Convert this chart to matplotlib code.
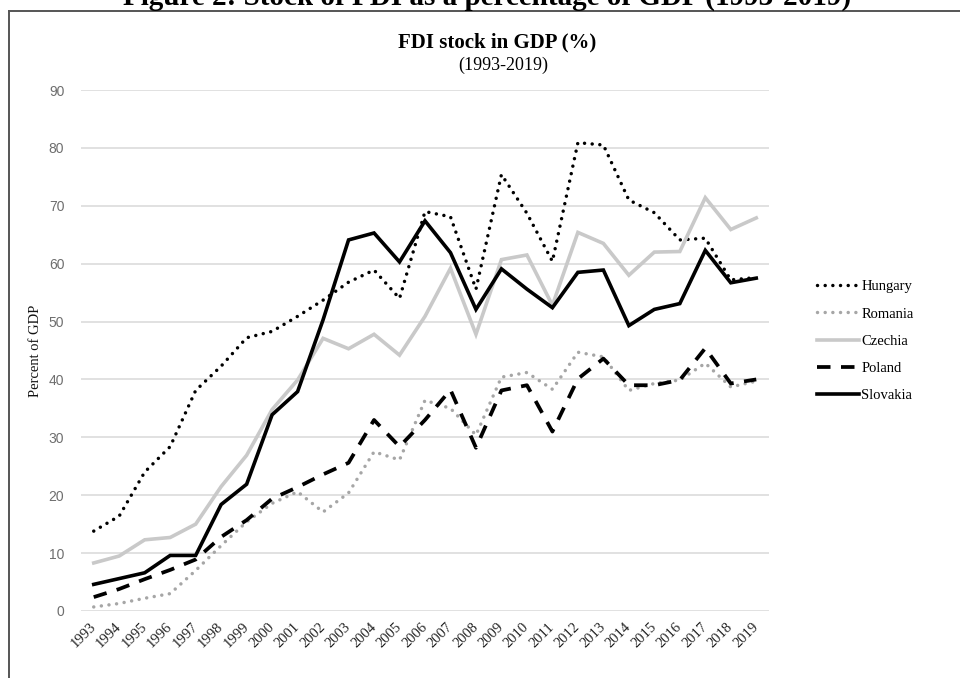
import matplotlib
matplotlib.use("Agg")
import matplotlib.pyplot as plt
from matplotlib.lines import Line2D


YEARS = [str(y) for y in range(1993, 2020)]

HUNGARY = [13.8, 16.4, 24.0, 28.4, 38.1, 42.3, 47.2, 48.3, 50.9, 53.7, 56.8, 58.9, 54.0,
           69.0, 68.1, 55.6, 75.4, 68.7, 60.4, 80.9, 80.5, 71.0, 68.8, 64.1, 64.4, 57.2, 57.6]
ROMANIA = [0.7, 1.3, 2.2, 3.0, 7.0, 11.3, 15.4, 18.6, 20.6, 17.1, 20.4, 27.5, 26.1,
           36.4, 35.0, 30.4, 40.4, 41.2, 38.3, 44.7, 43.9, 38.1, 39.3, 39.9, 42.8, 38.7, 39.7]
CZECHIA = [8.3, 9.5, 12.3, 12.7, 15.0, 21.5, 26.9, 34.8, 39.9, 47.1, 45.3, 47.8, 44.2,
           50.9, 59.2, 47.8, 60.7, 61.5, 52.8, 65.4, 63.5, 58.0, 62.0, 62.1, 71.4, 65.9, 67.9]
POLAND = [2.4, 3.8, 5.5, 7.1, 8.9, 12.8, 15.7, 19.4, 21.4, 23.6, 25.6, 33.0, 28.4,
          33.0, 38.2, 28.2, 38.1, 39.0, 31.0, 40.1, 43.6, 39.0, 39.0, 39.9, 45.4, 39.3, 40.0]
SLOVAKIA = [4.6, 5.6, 6.6, 9.6, 9.6, 18.4, 21.9, 33.9, 37.9, 50.3, 64.1, 65.3, 60.3,
            67.4, 61.9, 52.1, 59.1, 55.6, 52.4, 58.5, 58.9, 49.3, 52.1, 53.1, 62.3, 56.7, 57.5]

Y_TICKS = [0, 10, 20, 30, 40, 50, 60, 70, 80, 90]

SERIF = "Liberation Serif"
SANS = "Liberation Sans"


def main():
    fig = plt.figure(figsize=(9.6, 6.78), dpi=100)
    ax = fig.add_axes([81 / 960, 1 - 611 / 678, 688 / 960, 521 / 678])

    x = list(range(len(YEARS)))
    dot = (0, (0.01, 2.2))
    series = [
        ("Hungary", HUNGARY, "#000000", dot, 2.5),
        ("Romania", ROMANIA, "#a6a6a6", dot, 2.5),
        ("Czechia", CZECHIA, "#c9c9c9", "-", 2.6),
        ("Poland", POLAND, "#000000", (0, (3.6, 2.8)), 2.7),
        ("Slovakia", SLOVAKIA, "#000000", "-", 2.6),
    ]
    for name, values, color, style, lw in series:
        ax.plot(x, values, color=color, linestyle=style, linewidth=lw, label=name,
                dash_capstyle="round" if style is dot else "butt",
                solid_joinstyle="miter")

    ax.set_xlim(-0.5, len(YEARS) - 0.5)
    ax.set_ylim(0, 90)
    ax.set_yticks(Y_TICKS)
    ax.set_yticklabels([str(t) for t in Y_TICKS], fontfamily=SANS, fontsize=10,
                       color="#6e6e6e")
    ax.set_xticks(x)
    ax.set_xticklabels(YEARS, rotation=45, ha="right", va="center",
                       rotation_mode="anchor", fontfamily=SERIF, fontsize=10.5,
                       color="#222222")
    ax.tick_params(axis="y", length=0, pad=12)
    ax.tick_params(axis="x", length=0, pad=10)
    for spine in ax.spines.values():
        spine.set_visible(False)
    ax.yaxis.grid(True, color="#d9d9d9", linewidth=1.1)
    ax.set_axisbelow(True)

    ax.set_ylabel("Percent of GDP", fontfamily=SERIF, fontsize=10.5, color="#111111")
    ax.yaxis.set_label_coords(-0.056, 0.5)

    fig.text(497 / 960, 1 - 42 / 678, "FDI stock in GDP (%)", ha="center", va="center",
             fontfamily=SERIF, fontsize=15, fontweight="bold")
    fig.text(503 / 960, 1 - 65 / 678, "(1993-2019)", ha="center", va="center",
             fontfamily=SERIF, fontsize=13)
    fig.text(487 / 960, 1 - 5 / 678,
             "Figure 2: Stock of FDI as a percentage of GDP (1993-2019)",
             ha="center", va="baseline", fontfamily=SERIF, fontsize=21,
             fontweight="bold")

    # frame around the chart
    fig.add_artist(Line2D([9 / 960, 1.0], [1 - 11 / 678, 1 - 11 / 678],
                          color="#555555", linewidth=1.4))
    fig.add_artist(Line2D([9 / 960, 9 / 960], [0.0, 1 - 11 / 678],
                          color="#555555", linewidth=1.4))

    ax.legend(loc="center left", bbox_to_anchor=(817 / 960, 1 - 341 / 678),
              bbox_transform=fig.transFigure, frameon=False,
              prop={"family": SERIF, "size": 10.5}, handlelength=2.9,
              handletextpad=0.15, labelspacing=0.95, borderpad=0, borderaxespad=0)

    fig.savefig("out.png", dpi=100)


if __name__ == "__main__":
    main()
